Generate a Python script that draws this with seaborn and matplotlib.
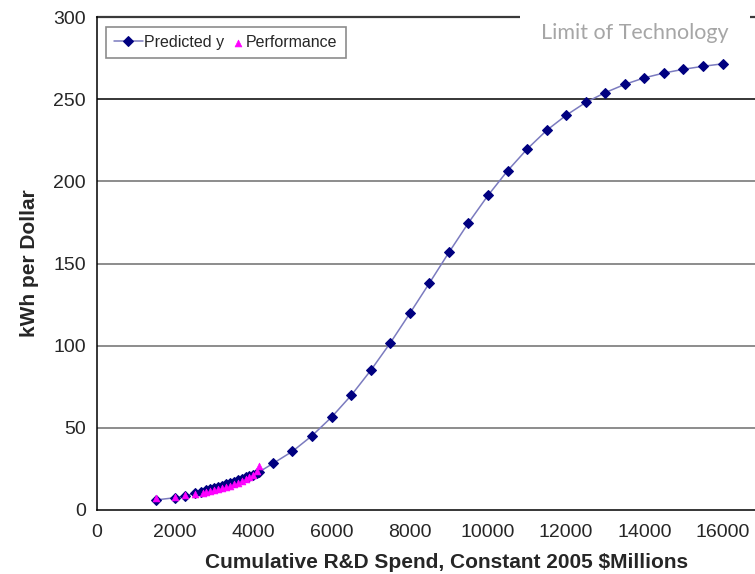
import matplotlib
matplotlib.use("Agg")
import matplotlib.pyplot as plt
from matplotlib.patches import Rectangle
from matplotlib.collections import PathCollection
from matplotlib.legend_handler import HandlerPathCollection
import seaborn as sns
import pandas as pd

# Predicted y (fitted S-curve)
pred_x = [1500, 2000, 2250, 2500, 2650, 2800, 2900, 3000, 3100, 3200, 3300, 3400,
          3500, 3600, 3700, 3800, 3900, 4000, 4100, 4150,
          4500, 5000, 5500, 6000, 6500, 7000, 7500, 8000, 8500, 9000, 9500,
          10000, 10500, 11000, 11500, 12000, 12500, 13000, 13500, 14000,
          14500, 15000, 15500, 16000]
pred_y = [6.1, 7.5, 8.5, 10.2, 11.0, 12.0, 12.7, 13.4, 14.1, 14.9, 15.6, 16.4,
          17.2, 18.0, 18.9, 19.8, 20.7, 21.6, 22.6, 23.2,
          28.3, 35.7, 45.2, 56.5, 69.7, 84.9, 101.6, 119.6, 138.0, 156.7, 174.7,
          191.4, 206.4, 219.6, 231.0, 240.2, 248.0, 254.0, 259.0, 263.0,
          265.9, 268.2, 270.0, 271.5]

# Historical performance
perf_x = [1500, 2000, 2250, 2500, 2700, 2800, 2900, 3000, 3100, 3200, 3300, 3400,
          3500, 3600, 3700, 3800, 3900, 4000, 4100, 4150]
perf_y = [7.5, 8.0, 9.0, 9.6, 10.5, 11.0, 11.5, 12.0, 12.6, 13.3, 14.0, 14.8,
          15.6, 16.5, 17.5, 18.6, 19.8, 21.5, 23.5, 26.5]

x_ticks = [0, 2000, 4000, 6000, 8000, 10000, 12000, 14000, 16000]
y_ticks = [0, 50, 100, 150, 200, 250, 300]

sns.set_style("white")
plt.rcParams["font.family"] = ["Liberation Sans", "DejaVu Sans"]

pred = pd.DataFrame({"x": pred_x, "y": pred_y})
perf = pd.DataFrame({"x": perf_x, "y": perf_y})

W, H = 755, 574
fig = plt.figure(figsize=(W / 100, H / 100), dpi=100)
ax = fig.add_axes([97 / W, 1 - 510 / H, 1 - 97 / W, (510 - 17) / H])

# gridlines
for v in [50, 100, 150, 200]:
    ax.axhline(v, color="#8c8c8c", lw=1.4, zorder=0)
ax.axhline(250, color="#000000", lw=1.1, zorder=0)
ax.axhline(300, color="#3a3a3a", lw=1.6, zorder=0, clip_on=False)

sns.lineplot(data=pred, x="x", y="y", ax=ax, color="#7b7bbf", lw=1.1,
             marker="D", markersize=5.2, markerfacecolor="#000080",
             markeredgecolor="#000080", label="Predicted y", zorder=3)
sns.scatterplot(data=perf, x="x", y="y", ax=ax, color="#ff00ff", marker="^",
                s=24, edgecolor="#ff00ff", linewidth=0.5, label="Performance", zorder=4)

ax.set_xlim(0, 16830)
ax.set_ylim(0, 300)
ax.set_xticks(x_ticks)
ax.set_yticks(y_ticks)
ax.set_xticklabels([str(t) for t in x_ticks], fontsize=14)
ax.set_yticklabels([str(t) for t in y_ticks], fontsize=14)
ax.tick_params(axis="both", direction="out", length=5, width=1, color="black", pad=3)
ax.tick_params(axis="x", pad=5)

for s in ["top", "right"]:
    ax.spines[s].set_visible(False)
for s in ["left", "bottom"]:
    ax.spines[s].set_color("black")
    ax.spines[s].set_linewidth(1.1)

ax.set_xlabel("Cumulative R&D Spend, Constant 2005 $Millions", fontsize=15,
              fontweight="bold")
ax.xaxis.set_label_coords((447 - 97) / 658, -(553 - 510) / 493)
ax.set_ylabel("kWh per Dollar", fontsize=15, fontweight="bold", labelpad=10)

leg = ax.legend(loc="upper left", bbox_to_anchor=(9 / 658, (510 - 27) / 493), ncol=2,
                fontsize=11.5, frameon=True, fancybox=False, edgecolor="#6f6f6f",
                handlelength=1.8, handletextpad=0.08, columnspacing=-0.5,
                borderpad=0.5, borderaxespad=0.0,
                handler_map={PathCollection: HandlerPathCollection(xpad=0.9)})
leg.get_frame().set_linewidth(1.2)

# white box hiding part of the top gridline behind the annotation
fig.patches.append(Rectangle((520 / W, 1 - 24 / H), 230 / W, 14 / H,
                             transform=fig.transFigure, facecolor="white",
                             edgecolor="none", zorder=5))
fig.text(635 / W, 1 - 33 / H, "Limit of Technology", ha="center", va="center",
         fontsize=15.5, color="#a6a6a6", family=["Lato", "DejaVu Sans"], zorder=10)

fig.savefig("out.png", dpi=100)
